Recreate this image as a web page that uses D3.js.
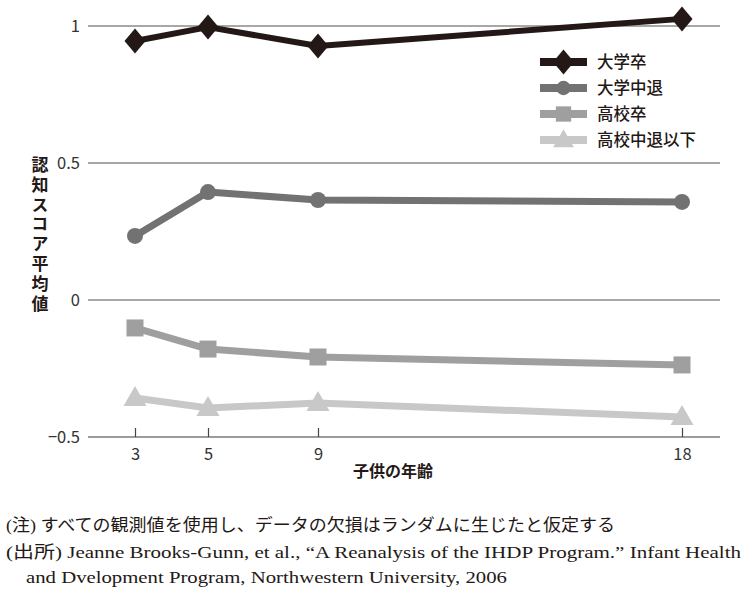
<!DOCTYPE html>
<html><head><meta charset="utf-8">
<script src="https://cdn.jsdelivr.net/npm/d3@7"></script>
<style>
html,body{margin:0;padding:0;background:#fff;}
svg{display:block;}
</style></head>
<body>
<svg id="chart" width="746" height="597"></svg>
<script>
const ages = [3, 5, 9, 18];
const seriesNames = ["大学卒", "大学中退", "高校卒", "高校中退以下"];
const valsCollege = [0.945, 0.996, 0.927, 1.026];
const valsCollegeDrop = [0.234, 0.394, 0.365, 0.358];
const valsHigh = [-0.102, -0.179, -0.208, -0.237];
const valsHighDrop = [-0.358, -0.394, -0.376, -0.427];
const yTicks = [1, 0.5, 0, -0.5];
const yTickLabels = ["1", "0.5", "0", "\u22120.5"];
const xTitle = "子供の年齢";
const yTitle = "認知スコア平均値";
const notes = [
  "(注) すべての観測値を使用し、データの欠損はランダムに生じたと仮定する",
  "(出所) Jeanne Brooks-Gunn, et al., \u201cA Reanalysis of the IHDP Program.\u201d Infant Health",
  "and Dvelopment Program, Northwestern University, 2006"
];

const series = [
  {name: seriesNames[0], values: valsCollege, color: "#231815", shape: "diamond", width: 6},
  {name: seriesNames[1], values: valsCollegeDrop, color: "#727272", shape: "circle", width: 7},
  {name: seriesNames[2], values: valsHigh, color: "#9f9f9f", shape: "square", width: 7},
  {name: seriesNames[3], values: valsHighDrop, color: "#c8c8c8", shape: "triangle", width: 7}
];

const svg = d3.select("#chart");
const plotLeft = 88, plotRight = 720, plotTop = 26, plotBottom = 437;

// Non-uniform horizontal spacing of the ages as in the original figure
const x = d3.scaleLinear().domain(ages).range([135, 208, 318, 682]);
const y = d3.scaleLinear().domain([-0.5, 1]).range([plotBottom, plotTop]);

const font = "'Noto Sans CJK JP', 'Noto Sans', sans-serif";

// gridlines
svg.append("g").selectAll("line").data(yTicks.filter(d => d !== -0.5)).join("line")
  .attr("x1", plotLeft).attr("x2", plotRight)
  .attr("y1", d => y(d)).attr("y2", d => y(d))
  .attr("stroke", "#8a8a8a").attr("stroke-width", 1.4);

// x axis
const xAxis = d3.axisBottom(x).tickValues(ages).tickSize(-9).tickPadding(20).tickSizeOuter(0);
const gx = svg.append("g").attr("transform", `translate(0,${plotBottom})`).call(xAxis);
gx.select(".domain").attr("d", `M${plotLeft},0H${plotRight}`).attr("stroke", "#7a7a7a").attr("stroke-width", 1.6);
gx.selectAll(".tick line").attr("stroke", "#444").attr("stroke-width", 1.2);
gx.selectAll(".tick text").attr("font-family", font).attr("font-size", 16.5).attr("fill", "#333").attr("dy", "0.2em");

// y tick labels
svg.append("g").selectAll("text").data(yTicks).join("text")
  .attr("x", 80).attr("y", d => y(d)).attr("dy", "0.35em")
  .attr("text-anchor", "end")
  .attr("font-family", font).attr("font-size", 16.5).attr("fill", "#333")
  .text((d, i) => yTickLabels[i]);

// titles
svg.append("text").attr("x", 393).attr("y", 477).attr("text-anchor", "middle")
  .attr("font-family", font).attr("font-size", 16).attr("font-weight", "bold").attr("fill", "#231815")
  .text(xTitle);
svg.append("text").attr("x", 40).attr("y", 156)
  .style("writing-mode", "vertical-rl")
  .attr("font-family", font).attr("font-size", 17).attr("font-weight", "bold")
  .attr("letter-spacing", 2.8).attr("fill", "#231815")
  .text(yTitle);

function markerPath(shape, s) {
  if (shape === "diamond") return `M0,${-12.5*s}L${10.5*s},0L0,${12.5*s}L${-10.5*s},0Z`;
  if (shape === "circle") return d3.symbol(d3.symbolCircle, Math.PI * 8 * 8 * s * s)();
  if (shape === "square") return `M${-8.5*s},${-8.5*s}H${8.5*s}V${8.5*s}H${-8.5*s}Z`;
  return `M0,${-12*s}L${11.5*s},${8*s}H${-11.5*s}Z`;
}

const line = d3.line().x(d => x(d[0])).y(d => y(d[1]));

series.slice().reverse().forEach(s => {
  const pts = ages.map((a, i) => [a, s.values[i]]);
  const g = svg.append("g");
  g.append("path").attr("d", line(pts)).attr("fill", "none")
    .attr("stroke", s.color).attr("stroke-width", s.width).attr("stroke-linejoin", "round");
  g.selectAll("path.m").data(pts).join("path").attr("class", "m")
    .attr("transform", d => `translate(${x(d[0])},${y(d[1])})`)
    .attr("d", markerPath(s.shape, 1)).attr("fill", s.color);
});

// legend
const legend = svg.append("g");
const lx0 = 540, lx1 = 587, ly0 = 62, ldy = 26;
series.forEach((s, i) => {
  const ly = ly0 + i * ldy;
  legend.append("line").attr("x1", lx0).attr("x2", lx1).attr("y1", ly).attr("y2", ly)
    .attr("stroke", s.color).attr("stroke-width", 8);
  legend.append("path").attr("transform", `translate(${(lx0+lx1)/2},${ly})`)
    .attr("d", markerPath(s.shape, s.shape === "diamond" ? 1 : 0.9)).attr("fill", s.color);
  legend.append("text").attr("x", 597).attr("y", ly).attr("dy", "0.36em")
    .attr("font-family", font).attr("font-size", 16.5).attr("font-weight", 500).attr("fill", "#231815")
    .text(s.name);
});

// notes
const serif = "'Liberation Serif', 'Noto Sans CJK JP', serif";
const noteX = [6, 6, 26], noteY = [531, 558, 583], noteW = [609, 735, 481];
svg.append("g").selectAll("text").data(notes).join("text")
  .attr("x", (d, i) => noteX[i]).attr("y", (d, i) => noteY[i])
  .attr("font-family", serif).attr("font-size", 17).attr("fill", "#231815")
  .attr("textLength", (d, i) => noteW[i]).attr("lengthAdjust", "spacingAndGlyphs")
  .text(d => d);
</script>
</body></html>
